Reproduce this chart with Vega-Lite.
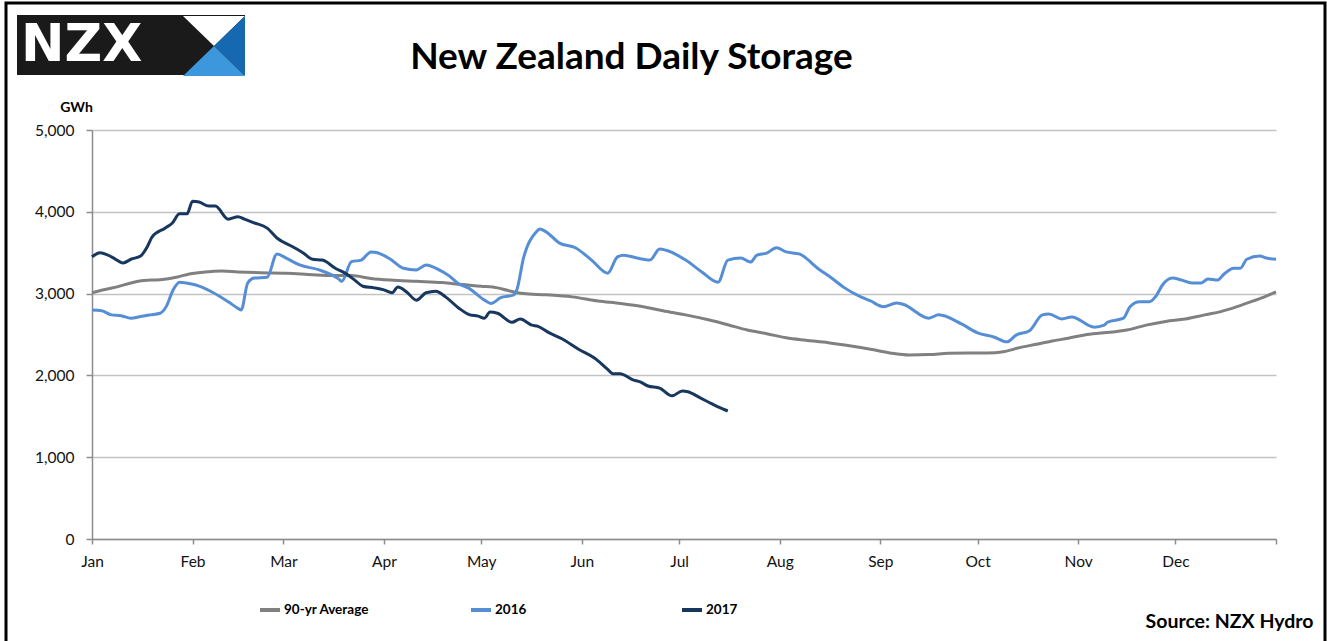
{
  "$schema": "https://vega.github.io/schema/vega-lite/v6.json",
  "width": 1319,
  "height": 641,
  "autosize": {"type": "none"},
  "padding": {"left": 6, "top": 3, "right": 2, "bottom": -3},
  "background": "white",
  "config": {
    "view": {"stroke": "black", "strokeWidth": 3},
    "font": "Lato"
  },
  "title": {
    "text": "New Zealand Daily Storage",
    "font": "Lato",
    "fontSize": 37,
    "fontWeight": "bold",
    "color": "black",
    "anchor": "middle",
    "frame": "group",
    "dx": -34,
    "offset": -103,
    "baseline": "alphabetic"
  },
  "resolve": {
    "scale": {"fill": "independent"},
    "legend": {"fill": "independent"}
  },
  "datasets": {
    "storage": [
      {"series": "90-yr Average", "day": 0, "gwh": 3010},
      {"series": "90-yr Average", "day": 4, "gwh": 3050},
      {"series": "90-yr Average", "day": 8, "gwh": 3085},
      {"series": "90-yr Average", "day": 12, "gwh": 3130},
      {"series": "90-yr Average", "day": 16, "gwh": 3160},
      {"series": "90-yr Average", "day": 21, "gwh": 3170},
      {"series": "90-yr Average", "day": 26, "gwh": 3200},
      {"series": "90-yr Average", "day": 30, "gwh": 3240},
      {"series": "90-yr Average", "day": 35, "gwh": 3265},
      {"series": "90-yr Average", "day": 40, "gwh": 3275},
      {"series": "90-yr Average", "day": 45, "gwh": 3265},
      {"series": "90-yr Average", "day": 52, "gwh": 3255},
      {"series": "90-yr Average", "day": 60, "gwh": 3250},
      {"series": "90-yr Average", "day": 68, "gwh": 3230},
      {"series": "90-yr Average", "day": 74, "gwh": 3220},
      {"series": "90-yr Average", "day": 80, "gwh": 3220},
      {"series": "90-yr Average", "day": 86, "gwh": 3185},
      {"series": "90-yr Average", "day": 92, "gwh": 3165},
      {"series": "90-yr Average", "day": 100, "gwh": 3150},
      {"series": "90-yr Average", "day": 108, "gwh": 3135},
      {"series": "90-yr Average", "day": 114, "gwh": 3110},
      {"series": "90-yr Average", "day": 120, "gwh": 3090},
      {"series": "90-yr Average", "day": 125, "gwh": 3070},
      {"series": "90-yr Average", "day": 128, "gwh": 3040},
      {"series": "90-yr Average", "day": 133, "gwh": 3000},
      {"series": "90-yr Average", "day": 140, "gwh": 2985},
      {"series": "90-yr Average", "day": 148, "gwh": 2960},
      {"series": "90-yr Average", "day": 156, "gwh": 2910},
      {"series": "90-yr Average", "day": 163, "gwh": 2880},
      {"series": "90-yr Average", "day": 170, "gwh": 2840},
      {"series": "90-yr Average", "day": 176, "gwh": 2790},
      {"series": "90-yr Average", "day": 183, "gwh": 2740},
      {"series": "90-yr Average", "day": 190, "gwh": 2680},
      {"series": "90-yr Average", "day": 196, "gwh": 2620},
      {"series": "90-yr Average", "day": 202, "gwh": 2555},
      {"series": "90-yr Average", "day": 208, "gwh": 2510},
      {"series": "90-yr Average", "day": 214, "gwh": 2460},
      {"series": "90-yr Average", "day": 220, "gwh": 2430},
      {"series": "90-yr Average", "day": 227, "gwh": 2400},
      {"series": "90-yr Average", "day": 234, "gwh": 2360},
      {"series": "90-yr Average", "day": 240, "gwh": 2320},
      {"series": "90-yr Average", "day": 246, "gwh": 2275},
      {"series": "90-yr Average", "day": 252, "gwh": 2250},
      {"series": "90-yr Average", "day": 258, "gwh": 2255},
      {"series": "90-yr Average", "day": 264, "gwh": 2270},
      {"series": "90-yr Average", "day": 270, "gwh": 2275},
      {"series": "90-yr Average", "day": 276, "gwh": 2275},
      {"series": "90-yr Average", "day": 281, "gwh": 2290},
      {"series": "90-yr Average", "day": 286, "gwh": 2340},
      {"series": "90-yr Average", "day": 291, "gwh": 2380},
      {"series": "90-yr Average", "day": 296, "gwh": 2420},
      {"series": "90-yr Average", "day": 301, "gwh": 2455},
      {"series": "90-yr Average", "day": 306, "gwh": 2495},
      {"series": "90-yr Average", "day": 312, "gwh": 2520},
      {"series": "90-yr Average", "day": 319, "gwh": 2555},
      {"series": "90-yr Average", "day": 325, "gwh": 2615},
      {"series": "90-yr Average", "day": 331, "gwh": 2660},
      {"series": "90-yr Average", "day": 337, "gwh": 2690},
      {"series": "90-yr Average", "day": 343, "gwh": 2740},
      {"series": "90-yr Average", "day": 348, "gwh": 2780},
      {"series": "90-yr Average", "day": 353, "gwh": 2840},
      {"series": "90-yr Average", "day": 358, "gwh": 2910},
      {"series": "90-yr Average", "day": 362, "gwh": 2970},
      {"series": "90-yr Average", "day": 365, "gwh": 3020},

      {"series": "2016", "day": 0, "gwh": 2800},
      {"series": "2016", "day": 3, "gwh": 2790},
      {"series": "2016", "day": 6, "gwh": 2740},
      {"series": "2016", "day": 9, "gwh": 2730},
      {"series": "2016", "day": 12, "gwh": 2700},
      {"series": "2016", "day": 15, "gwh": 2720},
      {"series": "2016", "day": 18, "gwh": 2740},
      {"series": "2016", "day": 21, "gwh": 2760},
      {"series": "2016", "day": 23, "gwh": 2850},
      {"series": "2016", "day": 25, "gwh": 3045},
      {"series": "2016", "day": 27, "gwh": 3140},
      {"series": "2016", "day": 29, "gwh": 3130},
      {"series": "2016", "day": 32, "gwh": 3105},
      {"series": "2016", "day": 37, "gwh": 3020},
      {"series": "2016", "day": 42, "gwh": 2900},
      {"series": "2016", "day": 45, "gwh": 2820},
      {"series": "2016", "day": 46, "gwh": 2800},
      {"series": "2016", "day": 48, "gwh": 3130},
      {"series": "2016", "day": 50, "gwh": 3190},
      {"series": "2016", "day": 54, "gwh": 3200},
      {"series": "2016", "day": 57, "gwh": 3485},
      {"series": "2016", "day": 60, "gwh": 3430},
      {"series": "2016", "day": 64, "gwh": 3350},
      {"series": "2016", "day": 70, "gwh": 3290},
      {"series": "2016", "day": 76, "gwh": 3180},
      {"series": "2016", "day": 77, "gwh": 3150},
      {"series": "2016", "day": 80, "gwh": 3390},
      {"series": "2016", "day": 83, "gwh": 3410},
      {"series": "2016", "day": 86, "gwh": 3510},
      {"series": "2016", "day": 88, "gwh": 3500},
      {"series": "2016", "day": 92, "gwh": 3420},
      {"series": "2016", "day": 96, "gwh": 3310},
      {"series": "2016", "day": 100, "gwh": 3290},
      {"series": "2016", "day": 103, "gwh": 3350},
      {"series": "2016", "day": 107, "gwh": 3290},
      {"series": "2016", "day": 110, "gwh": 3220},
      {"series": "2016", "day": 113, "gwh": 3120},
      {"series": "2016", "day": 116, "gwh": 3070},
      {"series": "2016", "day": 121, "gwh": 2920},
      {"series": "2016", "day": 123, "gwh": 2880},
      {"series": "2016", "day": 126, "gwh": 2950},
      {"series": "2016", "day": 130, "gwh": 2985},
      {"series": "2016", "day": 131, "gwh": 3050},
      {"series": "2016", "day": 133, "gwh": 3430},
      {"series": "2016", "day": 137, "gwh": 3755},
      {"series": "2016", "day": 138, "gwh": 3790},
      {"series": "2016", "day": 140, "gwh": 3755},
      {"series": "2016", "day": 144, "gwh": 3620},
      {"series": "2016", "day": 149, "gwh": 3560},
      {"series": "2016", "day": 154, "gwh": 3410},
      {"series": "2016", "day": 159, "gwh": 3250},
      {"series": "2016", "day": 162, "gwh": 3450},
      {"series": "2016", "day": 164, "gwh": 3470},
      {"series": "2016", "day": 168, "gwh": 3435},
      {"series": "2016", "day": 172, "gwh": 3410},
      {"series": "2016", "day": 175, "gwh": 3545},
      {"series": "2016", "day": 177, "gwh": 3530},
      {"series": "2016", "day": 183, "gwh": 3410},
      {"series": "2016", "day": 188, "gwh": 3265},
      {"series": "2016", "day": 193, "gwh": 3140},
      {"series": "2016", "day": 196, "gwh": 3410},
      {"series": "2016", "day": 200, "gwh": 3435},
      {"series": "2016", "day": 203, "gwh": 3385},
      {"series": "2016", "day": 205, "gwh": 3470},
      {"series": "2016", "day": 208, "gwh": 3495},
      {"series": "2016", "day": 211, "gwh": 3560},
      {"series": "2016", "day": 214, "gwh": 3510},
      {"series": "2016", "day": 218, "gwh": 3485},
      {"series": "2016", "day": 224, "gwh": 3300},
      {"series": "2016", "day": 228, "gwh": 3190},
      {"series": "2016", "day": 232, "gwh": 3070},
      {"series": "2016", "day": 237, "gwh": 2960},
      {"series": "2016", "day": 240, "gwh": 2910},
      {"series": "2016", "day": 244, "gwh": 2840},
      {"series": "2016", "day": 248, "gwh": 2885},
      {"series": "2016", "day": 250, "gwh": 2870},
      {"series": "2016", "day": 258, "gwh": 2700},
      {"series": "2016", "day": 261, "gwh": 2740},
      {"series": "2016", "day": 268, "gwh": 2630},
      {"series": "2016", "day": 273, "gwh": 2520},
      {"series": "2016", "day": 278, "gwh": 2470},
      {"series": "2016", "day": 282, "gwh": 2410},
      {"series": "2016", "day": 285, "gwh": 2495},
      {"series": "2016", "day": 289, "gwh": 2545},
      {"series": "2016", "day": 293, "gwh": 2740},
      {"series": "2016", "day": 295, "gwh": 2750},
      {"series": "2016", "day": 299, "gwh": 2690},
      {"series": "2016", "day": 302, "gwh": 2715},
      {"series": "2016", "day": 309, "gwh": 2590},
      {"series": "2016", "day": 312, "gwh": 2615},
      {"series": "2016", "day": 313, "gwh": 2650},
      {"series": "2016", "day": 318, "gwh": 2700},
      {"series": "2016", "day": 320, "gwh": 2840},
      {"series": "2016", "day": 323, "gwh": 2900},
      {"series": "2016", "day": 326, "gwh": 2900},
      {"series": "2016", "day": 328, "gwh": 2970},
      {"series": "2016", "day": 330, "gwh": 3105},
      {"series": "2016", "day": 333, "gwh": 3190},
      {"series": "2016", "day": 336, "gwh": 3165},
      {"series": "2016", "day": 339, "gwh": 3130},
      {"series": "2016", "day": 342, "gwh": 3130},
      {"series": "2016", "day": 344, "gwh": 3180},
      {"series": "2016", "day": 347, "gwh": 3165},
      {"series": "2016", "day": 349, "gwh": 3240},
      {"series": "2016", "day": 352, "gwh": 3310},
      {"series": "2016", "day": 354, "gwh": 3310},
      {"series": "2016", "day": 356, "gwh": 3420},
      {"series": "2016", "day": 360, "gwh": 3460},
      {"series": "2016", "day": 362, "gwh": 3435},
      {"series": "2016", "day": 365, "gwh": 3420},

      {"series": "2017", "day": 0, "gwh": 3450},
      {"series": "2017", "day": 2.5, "gwh": 3500},
      {"series": "2017", "day": 6, "gwh": 3450},
      {"series": "2017", "day": 9.6, "gwh": 3375},
      {"series": "2017", "day": 12, "gwh": 3420},
      {"series": "2017", "day": 15, "gwh": 3460},
      {"series": "2017", "day": 17, "gwh": 3570},
      {"series": "2017", "day": 18.5, "gwh": 3690},
      {"series": "2017", "day": 22.5, "gwh": 3800},
      {"series": "2017", "day": 24.7, "gwh": 3860},
      {"series": "2017", "day": 27, "gwh": 3975},
      {"series": "2017", "day": 29.3, "gwh": 3975},
      {"series": "2017", "day": 31, "gwh": 4130},
      {"series": "2017", "day": 33, "gwh": 4120},
      {"series": "2017", "day": 36, "gwh": 4070},
      {"series": "2017", "day": 38, "gwh": 4070},
      {"series": "2017", "day": 42, "gwh": 3910},
      {"series": "2017", "day": 45, "gwh": 3940},
      {"series": "2017", "day": 47, "gwh": 3910},
      {"series": "2017", "day": 50, "gwh": 3865},
      {"series": "2017", "day": 54, "gwh": 3800},
      {"series": "2017", "day": 57, "gwh": 3680},
      {"series": "2017", "day": 62, "gwh": 3570},
      {"series": "2017", "day": 65, "gwh": 3500},
      {"series": "2017", "day": 68, "gwh": 3420},
      {"series": "2017", "day": 71, "gwh": 3410},
      {"series": "2017", "day": 75, "gwh": 3310},
      {"series": "2017", "day": 78, "gwh": 3250},
      {"series": "2017", "day": 81, "gwh": 3165},
      {"series": "2017", "day": 83.5, "gwh": 3090},
      {"series": "2017", "day": 87, "gwh": 3070},
      {"series": "2017", "day": 90, "gwh": 3045},
      {"series": "2017", "day": 92.5, "gwh": 3010},
      {"series": "2017", "day": 94.3, "gwh": 3080},
      {"series": "2017", "day": 97, "gwh": 3020},
      {"series": "2017", "day": 100, "gwh": 2920},
      {"series": "2017", "day": 103, "gwh": 3010},
      {"series": "2017", "day": 106, "gwh": 3030},
      {"series": "2017", "day": 109, "gwh": 2960},
      {"series": "2017", "day": 113, "gwh": 2825},
      {"series": "2017", "day": 116.5, "gwh": 2740},
      {"series": "2017", "day": 119, "gwh": 2725},
      {"series": "2017", "day": 121, "gwh": 2700},
      {"series": "2017", "day": 122.7, "gwh": 2775},
      {"series": "2017", "day": 125, "gwh": 2760},
      {"series": "2017", "day": 129.5, "gwh": 2650},
      {"series": "2017", "day": 132, "gwh": 2690},
      {"series": "2017", "day": 135.6, "gwh": 2615},
      {"series": "2017", "day": 137.5, "gwh": 2600},
      {"series": "2017", "day": 141, "gwh": 2520},
      {"series": "2017", "day": 145, "gwh": 2445},
      {"series": "2017", "day": 150, "gwh": 2320},
      {"series": "2017", "day": 155, "gwh": 2210},
      {"series": "2017", "day": 158.8, "gwh": 2080},
      {"series": "2017", "day": 160.6, "gwh": 2020},
      {"series": "2017", "day": 162.8, "gwh": 2020},
      {"series": "2017", "day": 166.8, "gwh": 1945},
      {"series": "2017", "day": 169, "gwh": 1920},
      {"series": "2017", "day": 171.4, "gwh": 1870},
      {"series": "2017", "day": 175, "gwh": 1845},
      {"series": "2017", "day": 178.8, "gwh": 1750},
      {"series": "2017", "day": 182, "gwh": 1810},
      {"series": "2017", "day": 183.7, "gwh": 1800},
      {"series": "2017", "day": 187.5, "gwh": 1725},
      {"series": "2017", "day": 190, "gwh": 1675},
      {"series": "2017", "day": 193, "gwh": 1615},
      {"series": "2017", "day": 196, "gwh": 1565}
    ]
  },
  "layer": [
    {
      "data": {"name": "storage"},
      "mark": {"type": "line", "strokeWidth": 3, "interpolate": "monotone"},
      "encoding": {
        "x": {
          "field": "day",
          "type": "quantitative",
          "scale": {"domain": [0, 365], "range": [86, 1270], "nice": false, "zero": false},
          "axis": {
            "orient": "bottom",
            "offset": -105,
            "values": [0, 31, 59, 90, 120, 151, 181, 212, 243, 273, 304, 334, 365],
            "labelExpr": "['Jan','Feb','Mar','Apr','May','Jun','Jul','Aug','Sep','Oct','Nov','Dec',''][indexof([0,31,59,90,120,151,181,212,243,273,304,334,365], datum.value)]",
            "grid": false,
            "domainColor": "#8c8c8c",
            "domainWidth": 1.5,
            "tickColor": "#8c8c8c",
            "tickWidth": 1.5,
            "tickSize": 5,
            "labelFont": "Lato",
            "labelFontSize": 15.5,
            "labelColor": "#111111",
            "labelPadding": 10,
            "labelFlush": false,
            "labelOverlap": false,
            "title": "Source: NZX Hydro",
            "titleFont": "Lato",
            "titleFontSize": 19.5,
            "titleFontWeight": "bold",
            "titleColor": "black",
            "titleAlign": "right",
            "titleBaseline": "middle",
            "titleAnchor": null,
            "titleX": 1307,
            "titleY": 82
          }
        },
        "y": {
          "field": "gwh",
          "type": "quantitative",
          "scale": {"domain": [0, 5000], "range": [536, 127], "nice": false},
          "axis": {
            "orient": "left",
            "offset": -86,
            "values": [0, 1000, 2000, 3000, 4000, 5000],
            "format": ",.0f",
            "grid": true,
            "gridColor": "#c3c3c3",
            "gridWidth": 1.5,
            "domainColor": "#8c8c8c",
            "domainWidth": 1.5,
            "tickColor": "#8c8c8c",
            "tickWidth": 1.5,
            "tickSize": 6,
            "labelFont": "Lato",
            "labelFontSize": 15.5,
            "labelColor": "#111111",
            "labelPadding": 12,
            "title": "GWh",
            "titleFont": "Lato",
            "titleFontSize": 14,
            "titleFontWeight": "bold",
            "titleColor": "black",
            "titleAngle": 0,
            "titleAlign": "center",
            "titleBaseline": "middle",
            "titleAnchor": null,
            "titleX": -16,
            "titleY": 104
          }
        },
        "color": {
          "field": "series",
          "type": "nominal",
          "scale": {"domain": ["90-yr Average", "2016", "2017"], "range": ["#808080", "#558ED5", "#17375E"]},
          "legend": {
            "orient": "none",
            "legendX": 252,
            "legendY": 595,
            "direction": "horizontal",
            "columns": 3,
            "gridAlign": "all",
            "title": null,
            "padding": 0,
            "labelFont": "Lato",
            "labelFontSize": 13.5,
            "labelFontWeight": "bold",
            "labelColor": "black",
            "labelOffset": 2,
            "symbolType": "stroke",
            "symbolSize": 400,
            "symbolStrokeWidth": 4,
            "columnPadding": 93
          }
        }
      }
    },
    {
      "data": {"values": [{"brand": "NZX"}]},
      "mark": {"type": "point", "filled": true, "opacity": 0, "fill": "#1a1a1a"},
      "encoding": {
        "shape": {
          "field": "brand",
          "type": "nominal",
          "scale": {"domain": ["NZX"], "range": ["square"]},
          "legend": {
            "orient": "none",
            "legendX": 11,
            "legendY": 12,
            "direction": "horizontal",
            "title": "NZX",
            "titleOrient": "left",
            "titleColor": "white",
            "titleFont": "DejaVu Sans",
            "titleFontWeight": "bold",
            "titleFontSize": 52,
            "titleAnchor": "middle",
            "titlePadding": 46,
            "fillColor": "#1a1a1a",
            "padding": 4,
            "labelExpr": "''",
            "labelOffset": 0,
            "symbolSize": 2704,
            "symbolStrokeWidth": 0,
            "symbolOpacity": 0
          }
        }
      }
    },
    {
      "data": {"values": [{"part": "top"}]},
      "mark": {"type": "point", "filled": true, "opacity": 0},
      "encoding": {
        "fill": {
          "field": "part",
          "type": "nominal",
          "scale": {"domain": ["top"], "range": ["#ffffff"]},
          "legend": {
            "orient": "none",
            "legendX": 177,
            "legendY": 12,
            "title": null,
            "padding": 0,
            "labelExpr": "''",
            "labelOffset": 0,
            "symbolType": "M-1,-0.97L1,-0.97L0,0ZM-1,0.97",
            "symbolSize": 3844,
            "symbolStrokeWidth": 0,
            "symbolOpacity": 1
          }
        }
      }
    },
    {
      "data": {"values": [{"part": "right"}]},
      "mark": {"type": "point", "filled": true, "opacity": 0},
      "encoding": {
        "fill": {
          "field": "part",
          "type": "nominal",
          "scale": {"domain": ["right"], "range": ["#1668b0"]},
          "legend": {
            "orient": "none",
            "legendX": 177,
            "legendY": 12,
            "title": null,
            "padding": 0,
            "labelExpr": "''",
            "labelOffset": 0,
            "symbolType": "M1,-0.97L1,0.97L0,0ZM-1,-0.97",
            "symbolSize": 3844,
            "symbolStrokeWidth": 0,
            "symbolOpacity": 1
          }
        }
      }
    },
    {
      "data": {"values": [{"part": "bottom"}]},
      "mark": {"type": "point", "filled": true, "opacity": 0},
      "encoding": {
        "fill": {
          "field": "part",
          "type": "nominal",
          "scale": {"domain": ["bottom"], "range": ["#3d97dc"]},
          "legend": {
            "orient": "none",
            "legendX": 177,
            "legendY": 12,
            "title": null,
            "padding": 0,
            "labelExpr": "''",
            "labelOffset": 0,
            "symbolType": "M-1,0.97L1,0.97L0,0ZM-1,-0.97",
            "symbolSize": 3844,
            "symbolStrokeWidth": 0,
            "symbolOpacity": 1
          }
        }
      }
    }
  ]
}
